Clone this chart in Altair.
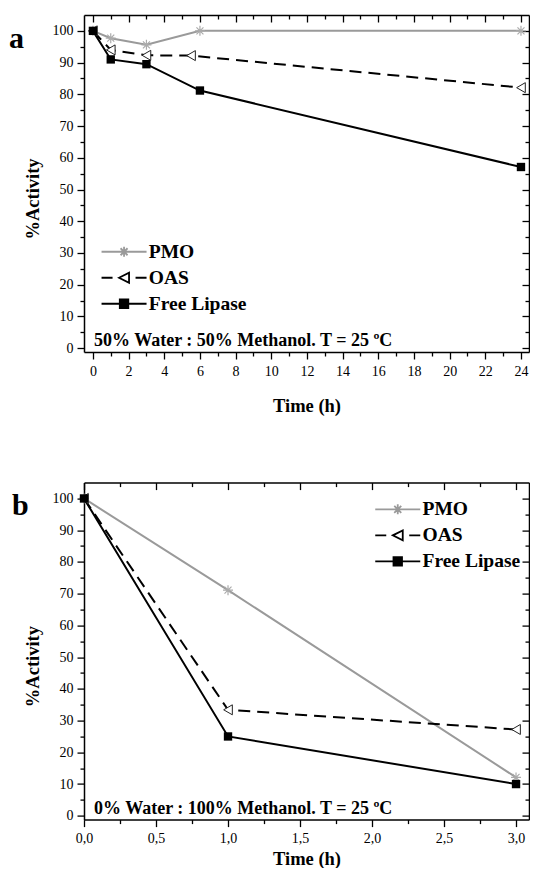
import altair as alt
import pandas as pd

FONT = "Liberation Serif, Times New Roman, DejaVu Serif, serif"
series = ["PMO", "OAS", "Free Lipase"]

# ---- panel a data ----
time_a_pmo = [0, 1, 3, 6, 24]
act_a_pmo = [100, 97.7, 95.6, 100, 100]
time_a_oas = [0, 1, 3, 5.5, 24]
act_a_oas = [100, 94.0, 92.3, 92.2, 82.1]
time_a_free = [0, 1, 3, 6, 24]
act_a_free = [100, 91.0, 89.5, 81.2, 57.1]

# ---- panel b data ----
time_b = [0, 1, 3]
act_b_pmo = [100, 71.1, 12.1]
act_b_oas = [100, 33.4, 27.2]
act_b_free = [100, 25.0, 10.0]

xticks_a = list(range(0, 25, 2))
xminor_a = list(range(1, 24, 2))
xticks_b = [0, 0.5, 1.0, 1.5, 2.0, 2.5, 3.0]
xminor_b = [0.25, 0.75, 1.25, 1.75, 2.25, 2.75]
yticks = list(range(0, 101, 10))
yminor = list(range(5, 100, 10))

note_a = ["50% Water : 50% Methanol. T = 25 ºC"]
note_b = ["0% Water : 100% Methanol. T = 25 ºC"]
letter_a = ["a"]
letter_b = ["b"]

W, H = 445, 337

asterisk = "M-1,0L1,0M0,-1L0,1M-0.7,-0.7L0.7,0.7M-0.7,0.7L0.7,-0.7"
legend_paths = [
    "M-4.5,0L4.5,0M0,-1L0,1M-0.7,-0.7L0.7,0.7M-0.7,0.7L0.7,-0.7",
    "M-4.5,0L-2.3,0M2.3,0L4.5,0M-1,0L1,-1L1,1Z",
    "M-4.5,0L4.5,0M-0.85,-0.85L0.85,-0.85L0.85,0.85L-0.85,0.85Z",
]


def long_df(times, acts):
    rows = []
    for s, t, a in zip(series, times, acts):
        for ti, ai in zip(t, a):
            rows.append({"series": s, "time": ti, "activity": ai})
    return pd.DataFrame(rows)


df_a = long_df([time_a_pmo, time_a_oas, time_a_free], [act_a_pmo, act_a_oas, act_a_free])
df_b = long_df([time_b, time_b, time_b], [act_b_pmo, act_b_oas, act_b_free])


def panel(df, xdom, xmaj, xmin, label_expr, xtitle_y, lx, ly, letter, letter_x, letter_y, note):
    xs = alt.Scale(domain=xdom, nice=False, zero=False)
    ys = alt.Scale(domain=[-1.2, 105], nice=False, zero=False)
    common = dict(grid=False, domainColor="black", tickColor="black", tickWidth=1.3, domainWidth=1.5)
    frame = dict(labels=False, title=None, minExtent=0, maxExtent=0, **common)
    xkw = dict(orient="bottom", values=xmaj, title="Time (h)", tickSize=7, labelFont=FONT,
               labelFontSize=14, labelColor="black", labelPadding=5, labelFlush=False,
               labelOverlap=False, titleFont=FONT, titleFontSize=18.5, titleFontWeight="bold",
               titleColor="black", titleY=xtitle_y, titleBaseline="middle", **common)
    if label_expr:
        xkw["labelExpr"] = label_expr
    ax_main = alt.Axis(**xkw)
    ay_main = alt.Axis(orient="left", values=yticks, title="%Activity", tickSize=7, labelFont=FONT,
                       labelFontSize=14, labelColor="black", labelPadding=4, labelFlush=False,
                       titleFont=FONT, titleFontSize=18.5, titleFontWeight="bold", titleColor="black",
                       titleX=-52, titleY=H / 2 + 15, titleBaseline="middle", **common)
    ax_min = alt.Axis(orient="bottom", values=xmin, labels=False, domain=False, tickSize=4, title=None, **common)
    ay_min = alt.Axis(orient="left", values=yminor, labels=False, domain=False, tickSize=4, title=None, **common)
    # mirrored frame axes on top / right, ticks pointing inward
    ax_top = alt.Axis(orient="top", values=xmaj, tickSize={"expr": "-7"}, **frame)
    ay_top = alt.Axis(orient="right", values=yticks, tickSize={"expr": "-7"}, **frame)
    ax_topm = alt.Axis(orient="top", values=xmin, domain=False, tickSize={"expr": "-4"}, **frame)
    ay_topm = alt.Axis(orient="right", values=yminor, domain=False, tickSize={"expr": "-4"}, **frame)

    def enc(ch, ax, ay):
        return ch.encode(x=alt.X("time:Q", scale=xs, axis=ax), y=alt.Y("activity:Q", scale=ys, axis=ay))

    base = alt.Chart(df)
    f_pmo = alt.datum.series == "PMO"
    f_oas = alt.datum.series == "OAS"
    f_free = alt.datum.series == "Free Lipase"

    l_pmo = enc(base.transform_filter(f_pmo).mark_line(color="#9a9a9a", strokeWidth=2), ax_main, ay_main)
    l_oas = enc(base.transform_filter(f_oas).mark_line(color="black", strokeWidth=2, strokeDash=[12, 7]), ax_min, ay_min)
    l_free = enc(base.transform_filter(f_free).mark_line(color="black", strokeWidth=2), ax_top, ay_top)
    p_pmo = enc(base.transform_filter(f_pmo).mark_point(shape=asterisk, size=100, color="#ababab",
                                                         strokeWidth=1.2, opacity=1), ax_topm, ay_topm)
    p_oas = enc(base.transform_filter(f_oas).mark_point(shape="triangle-left", size=100, fill="white",
                                                         stroke="#222222", strokeWidth=1, opacity=1), None, None)
    p_free = enc(base.transform_filter(f_free).mark_point(shape="square", size=70, filled=True,
                                                           color="black", opacity=1), None, None)

    leg = alt.Legend(orient="none", legendX=lx, legendY=ly, title=None, labelFont=FONT,
                     labelFontWeight="bold", labelFontSize=19.5, labelColor="black", labelOffset=15,
                     symbolSize=100, symbolStrokeWidth=1.8, rowPadding=5, padding=0,
                     symbolOpacity=1, labelLimit=400)
    legend_layer = alt.Chart(df).transform_filter("false").mark_point(
        size=100, opacity=1, filled=True, strokeWidth=1.8
    ).encode(
        shape=alt.Shape("series:N", scale=alt.Scale(domain=series, range=legend_paths), legend=leg),
        fill=alt.Fill("series:N", scale=alt.Scale(domain=series, range=["transparent", "white", "black"]), legend=leg),
        stroke=alt.Stroke("series:N", scale=alt.Scale(domain=series, range=["#9a9a9a", "black", "black"]), legend=leg),
    )

    letter_layer = alt.Chart(pd.DataFrame({"t": letter})).mark_text(
        align="left", baseline="alphabetic", font=FONT, fontWeight="bold", fontSize=30, color="black"
    ).encode(x=alt.value(letter_x), y=alt.value(letter_y), text="t:N")

    note_layer = alt.Chart(pd.DataFrame({"t": note})).mark_text(
        align="left", baseline="alphabetic", font=FONT, fontWeight="bold", fontSize=18, color="black"
    ).encode(x=alt.value(10), y=alt.value(331), text="t:N")

    return alt.layer(
        l_pmo, l_oas, l_free, p_pmo, p_oas, p_free, legend_layer, letter_layer, note_layer
    ).resolve_axis(x="independent", y="independent").properties(width=W, height=H)


panel_a = panel(df_a, [-0.5, 24.45], xticks_a, xminor_a, None, 53.7, 30.3, 227, letter_a, -75, 33, note_a)
panel_b = panel(df_b, [0, 3.09], xticks_b, xminor_b,
                "replace(format(datum.value, '.1f'), '.', ',')", 38.5, 304, 17, letter_b, -72, 32, note_b)

chart = alt.vconcat(panel_a, panel_b, spacing=65.6).resolve_scale(
    shape="independent", fill="independent", stroke="independent"
).properties(
    padding={"left": 1, "top": 6, "right": 0, "bottom": 0}
).configure_view(stroke=None)

chart.save("out.html", embed_options={"renderer": "svg", "actions": False})
